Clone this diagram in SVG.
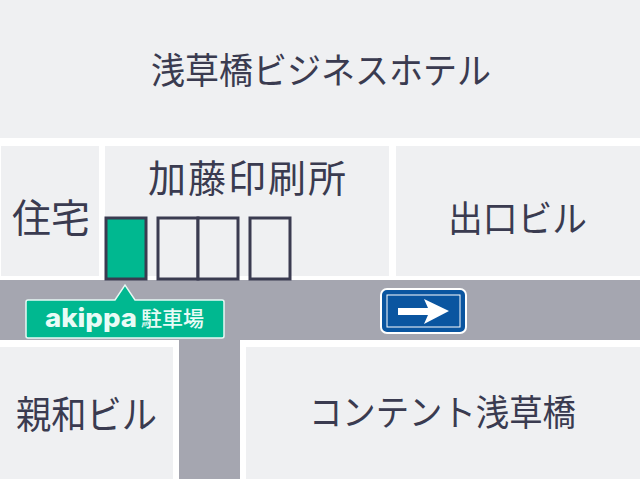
<svg xmlns="http://www.w3.org/2000/svg" width="640" height="479" viewBox="0 0 640 479">
<style>
.b{fill:#eff0f2}
.r{fill:#a5a6b0}
.t{font-family:"Noto Sans CJK JP","Noto Sans",sans-serif;fill:#3a3b50;font-weight:400}
.p{fill:#eff0f2;stroke:#3a3b50;stroke-width:3}
</style>
<rect width="640" height="479" fill="#fff"/>
<g id="roads"><rect class="r" x="0" y="280" width="640" height="60"/><rect class="r" x="179" y="340" width="61" height="139"/></g>
<g id="hotel"><rect class="b" x="0" y="0" width="640" height="138"/><text class="t" x="151" y="84" font-size="36" textLength="340" lengthAdjust="spacingAndGlyphs">浅草橋ビジネスホテル</text></g>
<g id="house"><rect class="b" x="1" y="146" width="98" height="130"/><text class="t" x="12" y="232" font-size="39" textLength="78">住宅</text></g>
<g id="print"><rect class="b" x="105" y="146" width="284" height="130"/><text class="t" x="148" y="192" font-size="38" textLength="198" lengthAdjust="spacing">加藤印刷所</text></g>
<g id="deguchi"><rect class="b" x="396" y="146" width="244" height="130"/><text class="t" x="448" y="232" font-size="36" textLength="139" lengthAdjust="spacingAndGlyphs">出口ビル</text></g>
<g id="shinwa"><rect class="b" x="0" y="347" width="173" height="132"/><text class="t" x="16" y="428" font-size="38" textLength="141" lengthAdjust="spacingAndGlyphs">親和ビル</text></g>
<g id="content"><rect class="b" x="246" y="347" width="394" height="132"/><text class="t" x="309" y="426" font-size="36" textLength="267" lengthAdjust="spacingAndGlyphs">コンテント浅草橋</text></g>
<g id="parking">
<rect x="106" y="218" width="40" height="61" fill="#00b890" stroke="#3a3b50" stroke-width="3"/>
<rect class="p" x="158" y="218" width="40" height="61"/>
<rect class="p" x="198" y="218" width="40" height="61"/>
<rect class="p" x="250" y="218" width="40" height="61"/>
</g>
<g id="akippa">
<path d="M28 300H115L125 285L135 300H222Q224 300 224 302V336Q224 338 222 338H28Q26 338 26 336V302Q26 300 28 300Z" fill="#00b890" stroke="#e6f8f3" stroke-width="1.5"/>
<text x="45" y="327" font-family="Inter,'Noto Sans',sans-serif" font-size="26" font-weight="800" fill="#e9fbf6" textLength="92" lengthAdjust="spacingAndGlyphs">akippa</text>
<text x="141" y="326" font-family="'Noto Sans CJK JP',sans-serif" font-size="21" font-weight="500" fill="#e9fbf6" textLength="63">駐車場</text>
</g>
<g id="sign">
<rect x="381" y="289" width="85" height="44" rx="6" fill="#0a55a0" stroke="#fff" stroke-width="2"/>
<rect x="387" y="295" width="73" height="32" fill="none" stroke="#fff" stroke-width="1"/>
<path d="M398 308H428L424 299L449 311L424 324L428 315H398Z" fill="#fff"/>
</g>
</svg>
